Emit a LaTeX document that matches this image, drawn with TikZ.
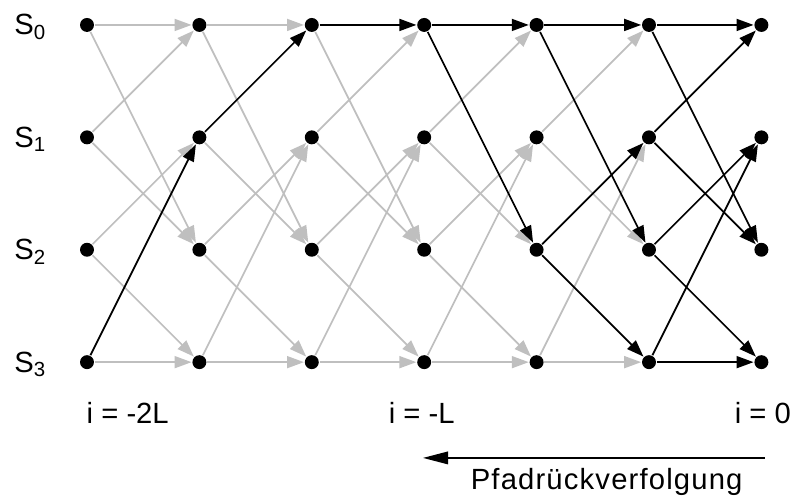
\documentclass[tikz,border=0pt]{standalone}
\usepackage{fontspec}
\setmainfont{Liberation Sans}
\usetikzlibrary{arrows.meta}

\begin{document}
\begin{tikzpicture}[x=2.974cm, y=2.974cm, line width=1.3pt,
      dot/.style={circle, fill=black, inner sep=0pt, minimum size=10.5pt},
      lbl/.style={font=\fontsize{22}{26}\selectfont, inner sep=0pt},
      tr/.style={-{Triangle[length=12.75pt, width=9pt]}, gray!50},
      path/.style={-{Triangle[length=12.75pt, width=9pt]}, black}]

    % ---- Frame (795 x 497) ----
    \useasboundingbox (-0.774, 0.222) rectangle (6.299, -4.199);

    % ---- Trellis states ----
    \foreach \c in {0,...,6}
      \foreach \r in {0,...,3}
        \node[dot] (s\c-\r) at (\c, -\r) {};

    % ---- State labels ----
    \foreach \r in {0,...,3}
      \node[lbl, anchor=base west] (lab\r) at (-0.654, -\r-0.089) {S\textsubscript{\r}};

    % ---- Gray transitions (not on the survivor paths) ----
    \foreach \c/\a/\b in {0/0/0, 0/0/2, 0/1/0, 0/1/2, 0/2/1, 0/2/3, 0/3/3,
                          1/0/0, 1/0/2, 1/1/2, 1/2/1, 1/2/3, 1/3/1, 1/3/3,
                          2/0/2, 2/1/0, 2/1/2, 2/2/1, 2/2/3, 2/3/1, 2/3/3,
                          3/1/0, 3/1/2, 3/2/1, 3/2/3, 3/3/1, 3/3/3,
                          4/1/0, 4/1/2, 4/3/1, 4/3/3}
    {
      \pgfmathtruncatemacro{\d}{\c+1}
      \draw[tr] (s\c-\a) -- (s\d-\b);
    }

    % ---- Survivor paths (black) ----
    \foreach \c/\a/\b in {0/3/1, 1/1/0, 2/0/0,
                          3/0/0, 3/0/2,
                          4/0/0, 4/0/2, 4/2/1, 4/2/3,
                          5/0/0, 5/0/2, 5/1/0, 5/1/2, 5/2/1, 5/2/3, 5/3/1, 5/3/3}
    {
      \pgfmathtruncatemacro{\d}{\c+1}
      \draw[path] (s\c-\a) -- (s\d-\b);
    }

    % ---- Time indices ----
    \node[lbl, anchor=base west] (t0) at (-0.01, -3.55) {i = -2L};
    \node[lbl, anchor=base west] (t1) at (2.678, -3.55) {i = -L};
    \node[lbl, anchor=base east] (t2) at (6.27, -3.55) {i = 0};

    % ---- Traceback direction ----
    \coordinate (tb-start) at (6.032, -3.852);
    \coordinate (tb-end) at (2.989, -3.852);
    \draw[-{Triangle[length=19pt, width=9.5pt]}] (tb-start) -- (tb-end);
    \node[lbl, anchor=base west, font=\fontsize{22}{26}\addfontfeatures{LetterSpace=4}\selectfont]
      (tb) at (3.407, -4.137) {Pfadrückverfolgung};

\end{tikzpicture}
\end{document}
